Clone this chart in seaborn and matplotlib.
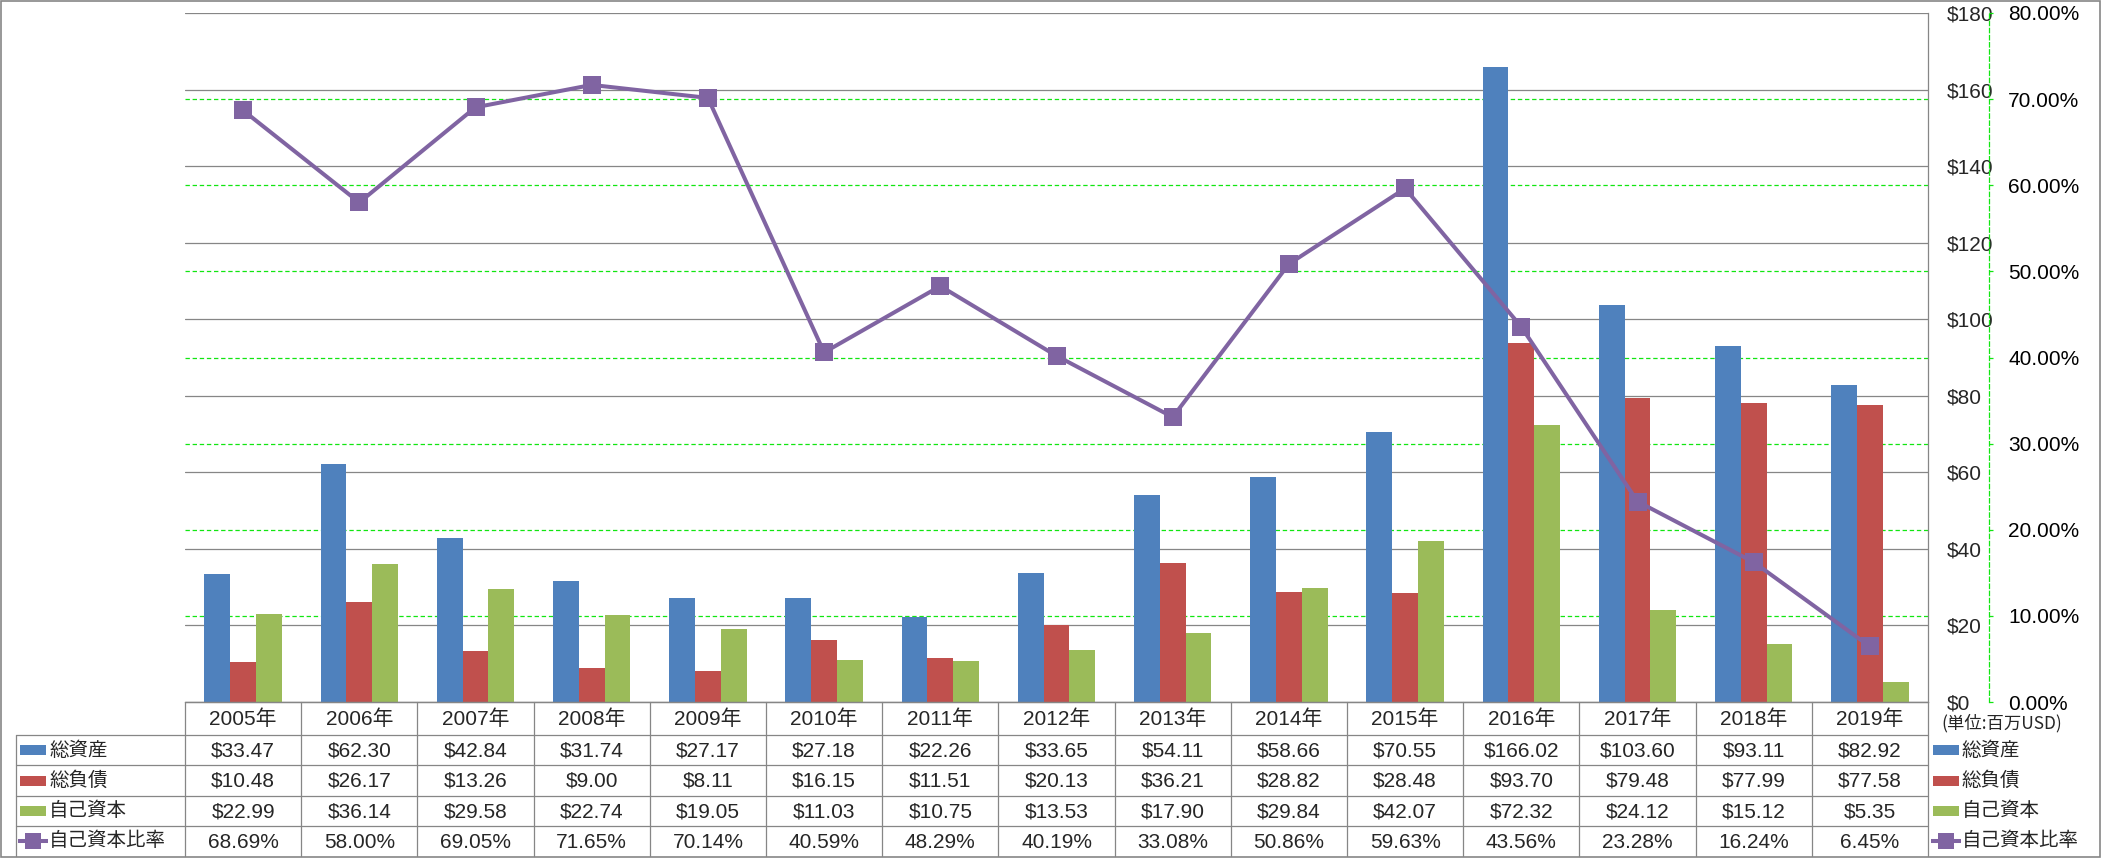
import numpy as np
import pandas as pd
import matplotlib
matplotlib.use("Agg")
import matplotlib.pyplot as plt
import seaborn as sns
from matplotlib import font_manager
from matplotlib.ticker import FuncFormatter
from matplotlib.patches import Rectangle

# ---------------- data ----------------
years = ['2005年', '2006年', '2007年', '2008年', '2009年', '2010年', '2011年', '2012年',
         '2013年', '2014年', '2015年', '2016年', '2017年', '2018年', '2019年']
total_assets = [33.47, 62.30, 42.84, 31.74, 27.17, 27.18, 22.26, 33.65,
                54.11, 58.66, 70.55, 166.02, 103.60, 93.11, 82.92]
total_liabilities = [10.48, 26.17, 13.26, 9.00, 8.11, 16.15, 11.51, 20.13,
                     36.21, 28.82, 28.48, 93.70, 79.48, 77.99, 77.58]
equity = [22.99, 36.14, 29.58, 22.74, 19.05, 11.03, 10.75, 13.53,
          17.90, 29.84, 42.07, 72.32, 24.12, 15.12, 5.35]
equity_ratio = [68.69, 58.00, 69.05, 71.65, 70.14, 40.59, 48.29, 40.19,
                33.08, 50.86, 59.63, 43.56, 23.28, 16.24, 6.45]
series_names = ['総資産', '総負債', '自己資本', '自己資本比率']
dollar_ticks = [0, 20, 40, 60, 80, 100, 120, 140, 160, 180]
pct_ticks = [0, 10, 20, 30, 40, 50, 60, 70, 80]
unit_label = '(単位:百万USD)'

colors = ['#4F81BD', '#C0504D', '#9BBB59', '#8064A2']
GREY = '#868686'
GREEN = '#11E611'

# ---------------- style / fonts ----------------
sns.set_style('white')
names = {f.name for f in font_manager.fontManager.ttflist}
num_font = 'Liberation Sans Narrow' if 'Liberation Sans Narrow' in names else 'Liberation Sans'
FAM = [num_font, 'Noto Sans CJK JP', 'DejaVu Sans']
CJK = ['Noto Sans CJK JP', 'DejaVu Sans']
plt.rcParams['font.family'] = FAM

W, H = 2101, 858
fig = plt.figure(figsize=(W / 100, H / 100), dpi=100)
L, R, T, B = 185, 1928, 13, 702
ax = fig.add_axes([L / W, 1 - B / H, (R - L) / W, (B - T) / H])

df = pd.DataFrame({
    'year': years * 3,
    'series': [series_names[0]] * len(years) + [series_names[1]] * len(years) + [series_names[2]] * len(years),
    'value': total_assets + total_liabilities + equity,
})

sns.barplot(data=df, x='year', y='value', hue='series', hue_order=series_names[:3],
            palette=colors[:3], width=0.666, saturation=1, errorbar=None,
            legend=False, ax=ax, zorder=2, linewidth=0)

ymax = dollar_ticks[-1]
pmax = pct_ticks[-1]

# ---------------- ratio line (secondary axis) ----------------
ax2 = ax.twinx()
sns.lineplot(x=np.arange(len(years)), y=equity_ratio, ax=ax2, color=colors[3],
             marker='s', markersize=12.5, markeredgewidth=0, linewidth=2.9,
             legend=False, zorder=5)

# primary axis formatting (after twinx, which resets tick sides)
ax.set_ylim(0, ymax)
ax.set_xlim(-0.5, len(years) - 0.5)
ax.set_yticks(dollar_ticks)
ax.yaxis.set_major_formatter(FuncFormatter(lambda v, p: f'${v:.0f}'))
ax.yaxis.tick_right()
ax.yaxis.set_label_position('right')
ax.tick_params(axis='y', left=False, right=True, labelleft=False, labelright=True,
               length=0, pad=13.7, labelsize=15)
ax.tick_params(axis='x', bottom=False, labelbottom=False)
ax.set_xlabel('')
ax.set_ylabel('')
ax.set_axisbelow(True)
ax.yaxis.grid(True, color=GREY, lw=0.9, zorder=0.5)
ax.xaxis.grid(False)
for p in pct_ticks[1:-1]:
    ax.axhline(p * ymax / pmax, color=GREEN, lw=0.9, ls=(0, (3.5, 2.2)), zorder=0.6)
for s in ['top', 'left']:
    ax.spines[s].set_visible(False)
for s in ['right', 'bottom']:
    ax.spines[s].set_color(GREY)
    ax.spines[s].set_linewidth(0.9)

ax2.set_ylim(0, pmax)
ax2.set_xlim(-0.5, len(years) - 0.5)
ax2.set_yticks(pct_ticks)
ax2.yaxis.set_major_formatter(FuncFormatter(lambda v, p: f'{v:.2f}%'))
ax2.grid(False)
ax2.set_ylabel('')
for s in ['top', 'left', 'bottom']:
    ax2.spines[s].set_visible(False)
sp = ax2.spines['right']
sp.set_position(('axes', 1 + (1989 - R) / (R - L)))
sp.set_color(GREEN)
sp.set_linewidth(0.9)
sp.set_linestyle((0, (3.5, 2.2)))
ax2.tick_params(axis='y', color=GREEN, labelcolor='black', length=3, width=0.9,
                pad=10.8, labelsize=15)

# ---------------- data table & frame (pixel overlay) ----------------
ov = fig.add_axes([0, 0, 1, 1], zorder=10)
ov.set_xlim(0, W)
ov.set_ylim(H, 0)
ov.axis('off')
ov.patch.set_visible(False)

colw = (R - L) / len(years)
row_edges = [702, 735, 765, 796, 826, 856]
lw = 0.9
for i in range(len(years) + 1):
    x = L + i * colw
    ov.plot([x, x], [row_edges[0], row_edges[-1]], color=GREY, lw=lw)
ov.plot([L, R], [row_edges[0]] * 2, color=GREY, lw=lw)
for y in row_edges[1:-1]:
    ov.plot([16, R], [y, y], color=GREY, lw=lw)
ov.plot([16, 16], [row_edges[1], row_edges[-1]], color=GREY, lw=lw)
ov.add_patch(Rectangle((1, 1), W - 2.5, 855.5, fill=False, edgecolor=GREY, lw=1.2))

centers = [(row_edges[k] + row_edges[k + 1]) / 2 for k in range(5)]
for i, yr in enumerate(years):
    cx = L + (i + 0.5) * colw
    ov.text(cx, centers[0] + 1, yr, ha='center', va='center', fontsize=15, family=FAM)
    ov.text(cx, centers[1] + 1, f'${total_assets[i]:.2f}', ha='center', va='center', fontsize=15, family=FAM)
    ov.text(cx, centers[2] + 1, f'${total_liabilities[i]:.2f}', ha='center', va='center', fontsize=15, family=FAM)
    ov.text(cx, centers[3] + 1, f'${equity[i]:.2f}', ha='center', va='center', fontsize=15, family=FAM)
    ov.text(cx, centers[4] + 1, f'{equity_ratio[i]:.2f}%', ha='center', va='center', fontsize=15, family=FAM)


def legend_key(x0, yc, k):
    if k < 3:
        ov.add_patch(Rectangle((x0, yc - 5), 26, 10, color=colors[k], lw=0))
    else:
        ov.plot([x0 - 2, x0 + 28], [yc, yc], color=colors[3], lw=2.9, solid_capstyle='butt')
        ov.plot([x0 + 13], [yc], marker='s', color=colors[3], markersize=11.5, markeredgewidth=0)


for k, name in enumerate(series_names):
    yc = centers[k + 1]
    legend_key(20, yc, k)
    ov.text(49, yc, name, ha='left', va='center', fontsize=14, family=CJK)
    legend_key(1933, yc, k)
    ov.text(1962, yc, name, ha='left', va='center', fontsize=14, family=CJK)

ov.text(1941, 723, unit_label, ha='left', va='center', fontsize=12.5, family=CJK)

fig.savefig('out.png', dpi=100)
